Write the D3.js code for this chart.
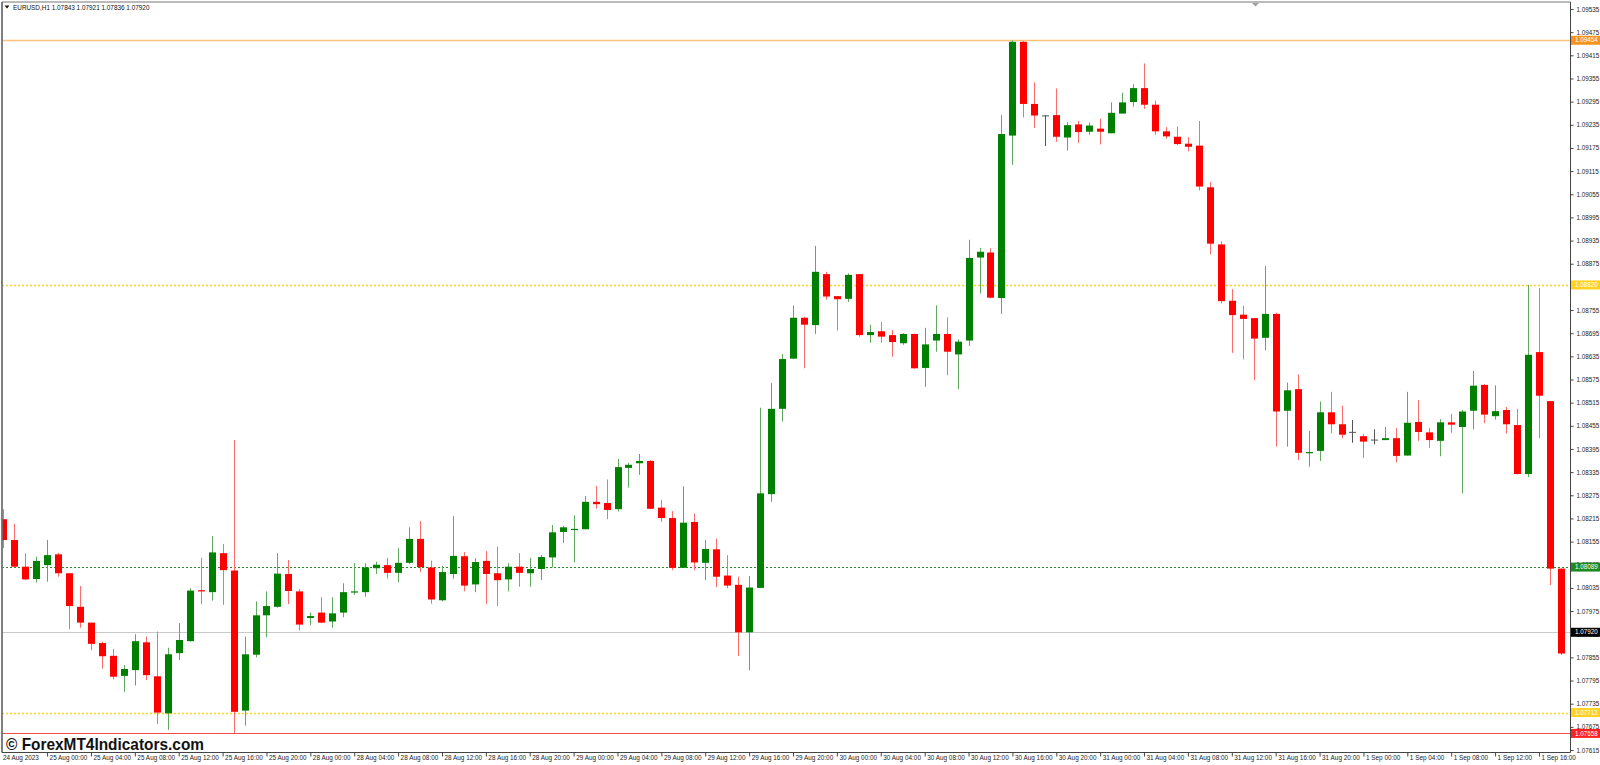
<!DOCTYPE html>
<html><head><meta charset="utf-8">
<script src="https://cdn.jsdelivr.net/npm/d3@7"></script>
<style>html,body{margin:0;padding:0;background:#fff;overflow:hidden}</style>
</head><body><svg id="c" width="1600" height="765" xmlns="http://www.w3.org/2000/svg"></svg>
<script>
// ---- data (EURUSD H1, bars from 24 Aug 2023 20:00 to 1 Sep 2023 18:00) ----
const opens = [1.08213,1.08159,1.08090,1.08058,1.08094,1.08122,1.08073,1.07986,1.07945,1.07892,
1.07859,1.07807,1.07822,1.07894,1.07806,1.07710,1.07866,1.07897,1.08029,1.08024,
1.08125,1.08080,1.07717,1.07862,1.07964,1.07986,1.08071,1.08026,1.07957,1.07971,
1.07948,1.07971,1.08023,1.08024,1.08086,1.08094,1.08074,1.08100,1.08162,1.08088,
1.08003,1.08071,1.08117,1.08044,1.08105,1.08073,1.08057,1.08090,1.08073,1.08084,
1.08114,1.08180,1.08185,1.08187,1.08258,1.08255,1.08239,1.08346,1.08358,1.08364,
1.08243,1.08216,1.08087,1.08206,1.08100,1.08135,1.08067,1.08043,1.07920,1.08035,
1.08278,1.08499,1.08629,1.08735,1.08716,1.08848,1.08791,1.08784,1.08848,1.08690,
1.08700,1.08690,1.08669,1.08693,1.08605,1.08676,1.08693,1.08640,1.08676,1.08891,
1.08904,1.08786,1.09207,1.09450,1.09289,1.09258,1.09260,1.09202,1.09236,1.09217,
1.09225,1.09213,1.09264,1.09294,1.09330,1.09287,1.09218,1.09204,1.09186,1.09181,
1.09073,1.08925,1.08779,1.08743,1.08734,1.08683,1.08745,1.08494,1.08550,1.08385,
1.08390,1.08490,1.08459,1.08438,1.08428,1.08418,1.08418,1.08423,1.08378,1.08465,
1.08438,1.08416,1.08464,1.08452,1.08494,1.08561,1.08480,1.08496,1.08457,1.08330,
1.08646,1.08519,1.08085];
const highs = [1.08239,1.08201,1.08125,1.08116,1.08159,1.08126,1.08073,1.08040,1.07945,1.07896,
1.07877,1.07835,1.07915,1.07909,1.07922,1.07880,1.07944,1.08034,1.08113,1.08169,
1.08149,1.08418,1.07909,1.08000,1.08026,1.08125,1.08107,1.08032,1.07971,1.08011,
1.08011,1.08047,1.08099,1.08099,1.08103,1.08113,1.08138,1.08192,1.08208,1.08106,
1.08092,1.08221,1.08128,1.08112,1.08131,1.08142,1.08099,1.08125,1.08113,1.08120,
1.08198,1.08196,1.08223,1.08273,1.08299,1.08316,1.08369,1.08359,1.08382,1.08366,
1.08263,1.08234,1.08298,1.08228,1.08159,1.08163,1.08120,1.08064,1.08066,1.08502,
1.08566,1.08641,1.08767,1.08737,1.08921,1.08854,1.08791,1.08850,1.08848,1.08717,
1.08724,1.08703,1.08695,1.08694,1.08709,1.08767,1.08736,1.08679,1.08937,1.08916,
1.08915,1.09260,1.09454,1.09452,1.09345,1.09260,1.09329,1.09242,1.09245,1.09241,
1.09251,1.09293,1.09318,1.09340,1.09394,1.09298,1.09229,1.09231,1.09203,1.09245,
1.09087,1.08933,1.08809,1.08766,1.08734,1.08869,1.08748,1.08567,1.08588,1.08442,
1.08518,1.08543,1.08507,1.08470,1.08434,1.08446,1.08452,1.08449,1.08543,1.08521,
1.08449,1.08472,1.08486,1.08496,1.08597,1.08563,1.08560,1.08504,1.08499,1.08820,
1.08812,1.08519,1.08085];
const lows = [1.08138,1.08089,1.08055,1.08049,1.08051,1.08064,1.07928,1.07932,1.07874,1.07826,
1.07798,1.07766,1.07782,1.07796,1.07682,1.07667,1.07848,1.07896,1.07993,1.08002,
1.07991,1.07658,1.07678,1.07855,1.07907,1.07984,1.07993,1.07925,1.07938,1.07944,
1.07932,1.07959,1.08017,1.08012,1.08071,1.08059,1.08050,1.08097,1.08076,1.07994,
1.08000,1.08059,1.08026,1.08024,1.07993,1.07988,1.08026,1.08038,1.08038,1.08055,
1.08088,1.08151,1.08101,1.08187,1.08240,1.08213,1.08233,1.08295,1.08328,1.08239,
1.08206,1.08081,1.08087,1.08081,1.08055,1.08037,1.08034,1.07859,1.07822,1.08035,
1.08258,1.08466,1.08629,1.08604,1.08693,1.08782,1.08702,1.08776,1.08686,1.08670,
1.08670,1.08634,1.08665,1.08603,1.08556,1.08647,1.08586,1.08550,1.08662,1.08798,
1.08785,1.08745,1.09131,1.09254,1.09227,1.09180,1.09191,1.09168,1.09188,1.09209,
1.09184,1.09213,1.09264,1.09282,1.09276,1.09209,1.09199,1.09182,1.09166,1.09065,
1.08899,1.08772,1.08644,1.08627,1.08573,1.08651,1.08401,1.08401,1.08366,1.08349,
1.08364,1.08436,1.08423,1.08411,1.08372,1.08407,1.08418,1.08360,1.08378,1.08416,
1.08398,1.08376,1.08437,1.08280,1.08446,1.08462,1.08471,1.08435,1.08329,1.08322,
1.08423,1.08042,1.07861];
const closes = [1.08159,1.08090,1.08057,1.08105,1.08120,1.08073,1.07988,1.07945,1.07890,1.07858,
1.07805,1.07825,1.07897,1.07809,1.07712,1.07863,1.07900,1.08028,1.08027,1.08127,
1.08081,1.07714,1.07863,1.07964,1.07988,1.08072,1.08027,1.07940,1.07962,1.07945,
1.07969,1.08024,1.08026,1.08088,1.08095,1.08074,1.08100,1.08162,1.08089,1.08005,
1.08076,1.08118,1.08041,1.08102,1.08071,1.08055,1.08090,1.08074,1.08084,1.08115,
1.08179,1.08192,1.08188,1.08258,1.08252,1.08237,1.08348,1.08354,1.08364,1.08240,
1.08216,1.08087,1.08204,1.08101,1.08136,1.08064,1.08041,1.07920,1.08036,1.08280,
1.08499,1.08628,1.08735,1.08717,1.08854,1.08790,1.08783,1.08846,1.08690,1.08698,
1.08686,1.08672,1.08693,1.08604,1.08666,1.08693,1.08647,1.08673,1.08890,1.08906,
1.08787,1.09211,1.09450,1.09289,1.09259,1.09258,1.09204,1.09234,1.09216,1.09233,
1.09217,1.09266,1.09293,1.09330,1.09287,1.09218,1.09205,1.09185,1.09178,1.09075,
1.08927,1.08778,1.08742,1.08732,1.08681,1.08745,1.08492,1.08547,1.08385,1.08387,
1.08490,1.08459,1.08432,1.08438,1.08414,1.08418,1.08423,1.08377,1.08463,1.08439,
1.08418,1.08464,1.08458,1.08492,1.08559,1.08484,1.08493,1.08459,1.08330,1.08639,
1.08533,1.08085,1.07865];

const priceTicks = [1.09535,1.09475,1.09415,1.09355,1.09295,1.09235,1.09175,1.09115,1.09055,1.08995,
1.08935,1.08875,1.08815,1.08755,1.08695,1.08635,1.08575,1.08515,1.08455,1.08395,
1.08335,1.08275,1.08215,1.08155,1.08095,1.08035,1.07975,1.07915,1.07855,1.07795,
1.07735,1.07675,1.07615];

const firstDateLabel = "24 Aug 2023";
const timeTickBars = [4,8,12,16,20,24,28,32,36,40,44,48,52,56,60,64,68,72,76,80,84,88,92,96,100,104,108,112,116,120,124,128,132,136,140];
const timeTickLabels = ["25 Aug 00:00","25 Aug 04:00","25 Aug 08:00","25 Aug 12:00","25 Aug 16:00","25 Aug 20:00",
"28 Aug 00:00","28 Aug 04:00","28 Aug 08:00","28 Aug 12:00","28 Aug 16:00","28 Aug 20:00",
"29 Aug 00:00","29 Aug 04:00","29 Aug 08:00","29 Aug 12:00","29 Aug 16:00","29 Aug 20:00",
"30 Aug 00:00","30 Aug 04:00","30 Aug 08:00","30 Aug 12:00","30 Aug 16:00","30 Aug 20:00",
"31 Aug 00:00","31 Aug 04:00","31 Aug 08:00","31 Aug 12:00","31 Aug 16:00","31 Aug 20:00",
"1 Sep 00:00","1 Sep 04:00","1 Sep 08:00","1 Sep 12:00","1 Sep 16:00"];

const levelValues = [1.09454, 1.08820, 1.08089, 1.07920, 1.07712, 1.07658];
const levelNames  = ["1.09454","1.08820","1.08089","1.07920","1.07712","1.07658"];

const titleText = "EURUSD,H1  1.07843 1.07921 1.07836 1.07920";
const watermarkText = "\u00A9 ForexMT4Indicators.com";

// ---- drawing ----
const svg = d3.select("#c");
const FONT = "'Liberation Sans', Arial, sans-serif";
const plotL = 2, plotT = 2, plotR = 1570.5, plotB = 752.5;

const x = d3.scaleLinear().domain([0, opens.length - 1]).range([3.2, 1560.9]);
const y = d3.scaleLinear().domain([1.07615, 1.09535]).range([750, 9]);

svg.append("rect").attr("width",1600).attr("height",765).attr("fill","#fff");

const defs = svg.append("defs");
defs.append("clipPath").attr("id","plotClip").append("rect")
  .attr("x",plotL+0.5).attr("y",plotT+0.5).attr("width",plotR-plotL-1).attr("height",plotB-plotT-1);

const plot = svg.append("g").attr("clip-path","url(#plotClip)");

// level lines
const levelStyle = [
  {stroke:"#ffc27a", width:1.6, dash:null, bg:"#f7941d"},
  {stroke:"#ffd21a", width:1.3, dash:"2,2", bg:"#ffd21f"},
  {stroke:"#2a8a2a", width:1,   dash:"2,2", bg:"#1f8a1f"},
  {stroke:"#c9c9c9", width:1.2, dash:null, bg:"#000000"},
  {stroke:"#ffd21a", width:1.3, dash:"2,2", bg:"#ffd21f"},
  {stroke:"#f04a4a", width:1.2, dash:null, bg:"#ff2020"}
];
levelValues.forEach((v,i)=>{
  const st = levelStyle[i];
  const yy = Math.round(y(v)) + 0.5;
  plot.append("line").attr("x1",plotL).attr("x2",plotR).attr("y1",yy).attr("y2",yy)
    .attr("stroke",st.stroke).attr("stroke-width",st.width)
    .attr("stroke-dasharray",st.dash);
});

// candles
const idx = d3.range(opens.length);
const bodyW = 7;
const bull = "#008000", bear = "#ff0000", doji = "#555555";
const wickBull = "#5faa5f", wickBear = "#ff6a6a";
const cg = plot.append("g");
idx.forEach(i=>{
  const o = opens[i], c = closes[i], h = highs[i], l = lows[i];
  const cx = Math.round(x(i)) + 0.5;
  const isDoji = Math.abs(o - c) < 0.000005;
  const up = c > o;
  const col = isDoji ? doji : (up ? bull : bear);
  const wcol = isDoji ? doji : (up ? wickBull : wickBear);
  cg.append("line").attr("x1",cx).attr("x2",cx).attr("y1",y(h)).attr("y2",y(l))
    .attr("stroke",wcol).attr("stroke-width",1);
  const top = y(Math.max(o,c)), bot = y(Math.min(o,c));
  if (isDoji) {
    cg.append("line").attr("x1",cx-bodyW/2).attr("x2",cx+bodyW/2).attr("y1",top).attr("y2",top)
      .attr("stroke",col).attr("stroke-width",1);
  } else {
    cg.append("rect").attr("x",cx-bodyW/2).attr("y",top).attr("width",bodyW)
      .attr("height",Math.max(1.2, bot-top)).attr("fill",col);
  }
});

// frame
svg.append("line").attr("x1",plotL).attr("x2",plotR).attr("y1",plotT).attr("y2",plotT).attr("stroke","#777").attr("stroke-width",1);
svg.append("line").attr("x1",plotL).attr("x2",plotL).attr("y1",plotT).attr("y2",plotB).attr("stroke","#555").attr("stroke-width",1.5);

// right price axis
const yAxis = d3.axisRight(y).tickValues(priceTicks).tickSize(3).tickPadding(3)
  .tickFormat(d3.format(".5f"));
const ya = svg.append("g").attr("transform",`translate(${plotR},0)`).call(yAxis);
ya.select(".domain").attr("stroke","#444").attr("d",`M0,${plotT}V${plotB}`);
ya.selectAll(".tick line").attr("stroke","#444");
ya.selectAll(".tick text").attr("font-family",FONT).attr("font-size","6.3px").attr("fill","#222");

// bottom time axis
const xAxis = d3.axisBottom(x).tickValues(timeTickBars).tickSize(4)
  .tickFormat((d,i)=>timeTickLabels[i]);
const xa = svg.append("g").attr("transform",`translate(0,${plotB})`).call(xAxis);
xa.select(".domain").attr("stroke","#444").attr("d",`M${plotL},0H${plotR}`);
xa.selectAll(".tick line").attr("stroke","#444");
xa.selectAll(".tick text").attr("font-family",FONT).attr("font-size","6.4px").attr("fill","#222")
  .attr("text-anchor","start").attr("dx","2px").attr("y",2.5).attr("dy","0.71em");
svg.append("text").attr("x",3).attr("y",plotB+2.5).attr("dy","0.71em")
  .attr("font-family",FONT).attr("font-size","6.4px").attr("fill","#222").text(firstDateLabel);

// level labels on the price axis
levelValues.forEach((v,i)=>{
  const st = levelStyle[i];
  const yy = y(v);
  svg.append("rect").attr("x",plotR+0.5).attr("y",yy-4.5).attr("width",29).attr("height",9).attr("fill",st.bg);
  svg.append("text").attr("x",plotR+4.5).attr("y",yy).attr("dy","0.35em")
    .attr("font-family",FONT).attr("font-size","6.3px").attr("fill","#fff").text(levelNames[i]);
});

// title
svg.append("path").attr("d","M4.5,5.5 L9.5,5.5 L7,8.5 Z").attr("fill","#111");
svg.append("text").attr("x",13).attr("y",10).attr("font-family",FONT).attr("font-size","6.4px")
  .attr("fill","#111").text(titleText);

// shift marker
svg.append("path").attr("d","M1252,3 L1259,3 L1255.5,6.5 Z").attr("fill","#a0a0a0");

// watermark
svg.append("text").attr("x",6).attr("y",750).attr("font-family",FONT).attr("font-weight","bold")
  .attr("font-size","16.5px").attr("fill","#111").attr("textLength",198).attr("lengthAdjust","spacingAndGlyphs")
  .text(watermarkText);
</script>
</body></html>
